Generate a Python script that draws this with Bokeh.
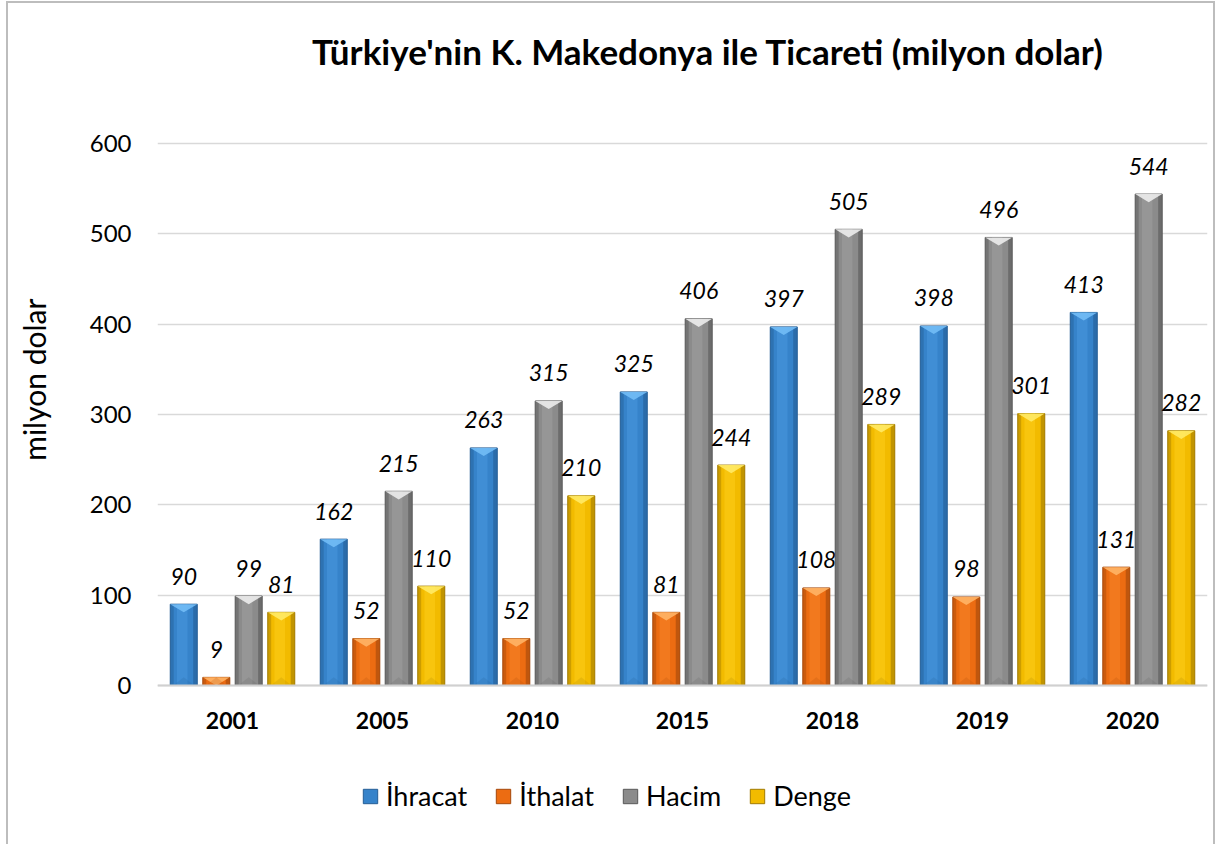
import numpy as np
from bokeh.plotting import figure
from bokeh.layouts import row
from bokeh.models import (Range1d, FixedTicker, Legend, LegendItem, ColumnDataSource,
                          Label, Span)
from bokeh.core.properties import value
from bokeh.embed import file_html
from bokeh.resources import INLINE

# ---- data ----
years = ["2001", "2005", "2010", "2015", "2018", "2019", "2020"]
series_names = ["İhracat", "İthalat", "Hacim", "Denge"]
ihracat = [90, 162, 263, 325, 397, 398, 413]
ithalat = [9, 52, 52, 81, 108, 98, 131]
hacim = [99, 215, 315, 406, 505, 496, 544]
denge = [81, 110, 210, 244, 289, 301, 282]
y_ticks = [0, 100, 200, 300, 400, 500, 600]

title_text = "Türkiye'nin K. Makedonya ile Ticareti (milyon dolar)"
y_label_text = "milyon dolar"

# ---- styles / layout ----
FONT = "Lato"
offsets = [-0.325, -0.108, 0.108, 0.325]
bar_w = 0.18
palettes = [
    # dark edge, mid, highlight, bevel
    ("#245d95", "#3683ca", "#4d9be2", "#72bcf6"),
    ("#a4480a", "#ec6c12", "#fb8a2e", "#ffb466"),
    ("#585858", "#8b8b8b", "#a4a4a4", "#ececec"),
    ("#a07a00", "#f2bb00", "#ffd21e", "#ffea66"),
]
bevel_depth = 9.0
H = 841          # figure height (page y 3 .. 844)
W_LAB = 60       # width of the strip holding the axis title

# ---- strip with the vertical axis title ----
lab_fig = figure(width=W_LAB, height=H, output_backend="svg", toolbar_location=None,
                 x_range=Range1d(0, W_LAB), y_range=Range1d(0, H),
                 x_axis_location=None, y_axis_location=None,
                 min_border_left=0, min_border_right=0, min_border_top=0,
                 min_border_bottom=0)
lab_fig.outline_line_color = None
lab_fig.xgrid.visible = False
lab_fig.ygrid.visible = False
lab_fig.add_layout(Label(x=25, y=844 - 379, text=y_label_text, angle=np.pi / 2,
                         text_align="center", text_baseline="middle", text_font=FONT,
                         text_font_size="30px", text_color="#000000"))

# ---- main chart ----
# frame in page pixels: top 5, bottom 842; value 600 at 143, 0 at 685
px_per_unit = (685 - 143) / 600.0
y_top = (685 - 5) / px_per_unit
y_bot = -(842 - 685) / px_per_unit

p = figure(width=1205 - W_LAB, height=H, output_backend="svg", toolbar_location=None,
           x_range=Range1d(0, len(years)), y_range=Range1d(y_bot, y_top),
           x_axis_location=None,
           min_border_left=149 - W_LAB, min_border_right=6, min_border_top=2,
           min_border_bottom=2)
p.outline_line_color = None
p.background_fill_color = "white"
p.border_fill_color = "white"

# grid
p.xgrid.grid_line_color = None
p.ygrid.grid_line_color = "#d9d9d9"
p.ygrid.grid_line_width = 1.5
p.yaxis.ticker = FixedTicker(ticks=y_ticks)
p.add_layout(Span(location=0, dimension="width", line_color="#d0d0d0", line_width=2))

# y axis
p.yaxis.axis_line_color = None
p.yaxis.major_tick_line_color = None
p.yaxis.minor_tick_line_color = None
p.yaxis.major_label_text_font = FONT
p.yaxis.major_label_text_font_size = "24px"
p.yaxis.major_label_text_color = "#000000"
p.yaxis.major_label_standoff = 20

# category labels (years) under the baseline
base_idx = np.arange(len(years)) + 0.5
p.text(x=base_idx, y=np.zeros(len(years)), text=years, text_align="center",
       text_baseline="middle", y_offset=35, text_font=value(FONT),
       text_font_size="23px", text_font_style="bold", text_color="#000000")

all_series = [ihracat, ithalat, hacim, denge]
legend_items = []
for k, (vals, name) in enumerate(zip(all_series, series_names)):
    dark, mid, hi, bev = palettes[k]
    xs = base_idx + offsets[k]
    v = np.array(vals, dtype=float)
    src = ColumnDataSource(dict(x=xs, top=v, lab=[str(a) for a in vals]))
    r = p.vbar(x="x", top="top", bottom=0, width=bar_w, source=src,
               fill_color=mid, line_color=dark, line_width=1)
    # shading strips
    p.vbar(x=xs - bar_w / 2 + 0.012, top=v, bottom=0, width=0.022,
           fill_color=dark, fill_alpha=0.45, line_color=None)
    p.vbar(x=xs + bar_w / 2 - 0.014, top=v, bottom=0, width=0.026,
           fill_color=dark, fill_alpha=0.6, line_color=None)
    p.vbar(x=xs - 0.01, top=v, bottom=0, width=0.07,
           fill_color=hi, fill_alpha=0.45, line_color=None)
    # top bevel (V-shaped highlight)
    bx = [[x - bar_w / 2, x + bar_w / 2, x] for x in xs]
    by = [[t, t, max(t - bevel_depth, 0)] for t in v]
    p.patches(bx, by, fill_color=bev, fill_alpha=0.9, line_color=None)
    # bottom shadow
    sx = [[x - bar_w / 2 + 0.02, x + bar_w / 2 - 0.02, x] for x in xs]
    sy = [[0, 0, min(bevel_depth, t)] for t in v]
    p.patches(sx, sy, fill_color=dark, fill_alpha=0.18, line_color=None)
    # value labels
    p.text(x="x", y="top", text="lab", source=src, text_align="center",
           text_baseline="alphabetic", y_offset=-28, text_font=value(FONT),
           text_font_size="23px", text_font_style="italic", text_color="#000000")
    legend_items.append(LegendItem(label=name, renderers=[r]))

# title
p.add_layout(Label(x=3.67, y=(685 - 50) / px_per_unit, text=title_text,
                   text_align="center", text_baseline="middle", text_font=FONT,
                   text_font_size="35px", text_font_style="bold",
                   text_color="#000000"))

legend = Legend(items=legend_items, orientation="horizontal", location=(204, 30),
                padding=0, margin=0, spacing=27, label_standoff=7,
                glyph_width=18, glyph_height=18,
                label_text_font=FONT, label_text_font_size="27px",
                label_text_color="#000000",
                border_line_color=None, background_fill_alpha=0)
p.add_layout(legend, "center")

layout = row(lab_fig, p, spacing=0)
layout.margin = (3, 0, 0, 8)
layout.styles = {"outline": "2px solid #bdbdbd"}

open("out.html", "w").write(file_html(layout, INLINE))
